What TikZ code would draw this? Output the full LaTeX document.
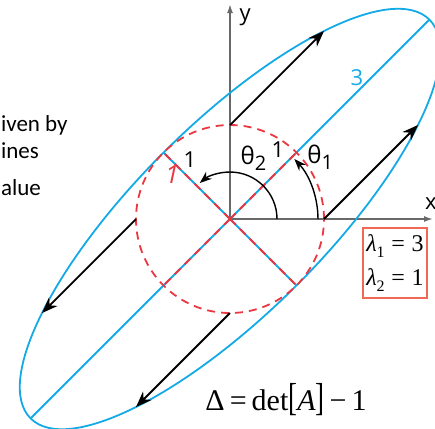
\documentclass[tikz,border=0pt]{standalone}
\usepackage{fontspec}
\usepackage{xcolor}
\usepackage{tikz}
\usetikzlibrary{arrows.meta}

\newfontfamily\labelfont{Open Sans}
\newfontfamily\slidefont{Carlito}
\newfontfamily\timesfont{Liberation Serif}

\definecolor{ellblue}{RGB}{20,170,230}
\definecolor{circred}{RGB}{235,55,65}
\definecolor{axisgray}{RGB}{105,105,105}
\definecolor{boxred}{RGB}{240,105,85}

\begin{document}
\begin{tikzpicture}[x=47pt, y=47pt, >=Stealth,
  vecarrow/.style={-{Stealth[length=8pt,width=6pt]}, line width=0.9pt, black},
  anglearrow/.style={-{Stealth[length=6pt,width=4.5pt]}, line width=0.7pt, black},
  axisline/.style={-{Latex[length=4.5pt,width=3pt]}, axisgray, line width=0.8pt},
  ellline/.style={ellblue, line width=0.9pt},
  unitdash/.style={circred, line width=0.9pt, dash pattern=on 4pt off 3pt},
  lbl/.style={font=\labelfont\fontsize{11}{13}\selectfont},
  slidetxt/.style={anchor=base west, inner sep=0pt, font=\slidefont\fontsize{11.5}{13}\selectfont}]
\useasboundingbox (-2.447,-2.234) rectangle (2.181,2.330);

%--- cropped slide text on the left ---
\node[slidetxt] (txtA) at (-2.44,0.926) {iven by};
\node[slidetxt] (txtB) at (-2.44,0.649) {ines};
\node[slidetxt] (txtC) at (-2.44,0.255) {alue};

% Axes
\coordinate (O) at (0,0);
\coordinate (xend) at (2.16,0);
\coordinate (yend) at (0,2.287);
\draw[axisline] (O) -- (xend);
\draw[axisline] (O) -- (yend);
\node[lbl] (xlbl) at (2.138,0.16) {x};
\node[lbl] (ylbl) at (0.16,2.149) {y};

% Ellipse (image of the unit circle) and its axes
\draw[ellline, rotate=45] (O) ellipse (3 and 1);
\coordinate (majA) at (45:3);
\coordinate (majB) at (225:3);
\coordinate (minA) at (135:1);
\coordinate (minB) at (315:1);
\draw[ellline] (majB) -- (majA);
\draw[ellline] (minA) -- (minB);

% Unit circle and its radii
\draw[unitdash] (O) circle (1);
\foreach \a in {45,135,225,315}
  \draw[unitdash] (O) -- (\a:1);

% Vectors x -> Ax
\coordinate (p1) at (1,0);
\coordinate (p2) at (0,1);
\coordinate (p3) at (-1,0);
\coordinate (p4) at (0,-1);
\coordinate (q1) at (2,1);
\coordinate (q2) at (1,2);
\coordinate (q3) at (-2,-1);
\coordinate (q4) at (-1,-2);
\draw[vecarrow] (p1) -- (q1);
\draw[vecarrow] (p2) -- (q2);
\draw[vecarrow] (p3) -- (q3);
\draw[vecarrow] (p4) -- (q4);

% Angles
\draw[anglearrow] (0.936,0) arc[start angle=0, end angle=43, radius=0.936];
\draw[anglearrow] (0.5,0) arc[start angle=0, end angle=130, radius=0.5];
\node[lbl, font=\labelfont\fontsize{12}{14}\selectfont] (th1) at (0.96,0.66) {θ\raisebox{-0.45ex}{\fontsize{10}{12}\selectfont 1}};
\node[lbl, font=\labelfont\fontsize{12}{14}\selectfont] (th2) at (0.25,0.65) {θ\raisebox{-0.45ex}{\fontsize{10}{12}\selectfont 2}};

% Lengths
\node[lbl] (oneA) at (-0.426,0.628) {1};
\node[lbl, circred, font=\labelfont\fontsize{12.5}{14}\selectfont] (oneB) at (-0.617,0.468) {\itshape 1};
\node[lbl] (oneC) at (0.511,0.734) {1};
\node[lbl, ellblue] (three) at (1.351,1.50) {3};

% Eigenvalues
\node[draw=boxred, line width=0.6pt, minimum width=32pt, minimum height=35pt,
  inner sep=1.5pt, align=left, font=\timesfont\fontsize{12}{17}\selectfont] (eig) at (1.755,-0.468)
  {{\itshape λ}\raisebox{-0.5ex}{\fontsize{8}{9}\selectfont 1}\;=\;3\\{\itshape λ}\raisebox{-0.5ex}{\fontsize{8}{9}\selectfont 2}\;=\;1};

% Determinant
\node[font=\timesfont\fontsize{15}{17}\selectfont] (delta) at (0.596,-1.926)
  {Δ\,=\,det\scalebox{0.9}[1.3]{[}{\itshape A}\scalebox{0.9}[1.3]{]}\,−\,1};
\end{tikzpicture}
\end{document}
